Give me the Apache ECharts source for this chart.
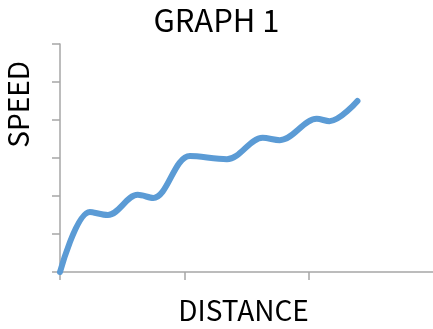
<!DOCTYPE html>
<html>
<head>
<meta charset="utf-8">
<script src="https://cdn.jsdelivr.net/npm/echarts@6/dist/echarts.min.js"></script>
<style>
  html, body { margin: 0; padding: 0; background: #fff; }
  #chart { width: 433px; height: 329px; }
</style>
</head>
<body>
<div id="chart"></div>
<script>
// values (x: 4 units per major tick, y: 1 unit per tick)
var distance = [0, 0.96, 1.54, 2.5, 3.0, 4.18, 5.37, 6.52, 7.07, 8.26, 8.67, 9.57];
var speed = [0, 1.58, 1.5, 2.03, 1.95, 3.05, 2.97, 3.53, 3.47, 4.03, 3.97, 4.5];
var xTicks = [0, 4, 8];

var titleText = 'GRAPH 1';
var xName = 'DISTANCE';
var yName = 'SPEED';

var font = '"Noto Sans CJK KR", "Noto Sans", sans-serif';
var axisGray = '#a6a6a6';

var chart = echarts.init(document.getElementById('chart'));

var points = distance.map(function (d, i) { return [d, speed[i]]; });

var option = {
    animation: false,
    title: {
        text: titleText,
        left: 'center',
        top: 0,
        textStyle: { fontFamily: font, fontSize: 31, fontWeight: 'normal', color: '#000' }
    },
    grid: { left: 60, right: 0, top: 44, bottom: 57 },
    xAxis: {
        type: 'value',
        min: 0,
        max: 12,
        interval: 4,
        name: xName,
        nameLocation: 'middle',
        nameGap: 24,
        nameTextStyle: { fontFamily: font, fontSize: 28, color: '#000', padding: [0, 6, 0, 0] },
        axisLine: { show: true, lineStyle: { color: axisGray, width: 1.5 } },
        // the tick at the right end falls off the canvas in the original
        axisTick: { show: true, length: 8, inside: false, customValues: xTicks, lineStyle: { color: axisGray, width: 1.5 } },
        axisLabel: { show: false },
        splitLine: { show: false }
    },
    yAxis: {
        type: 'value',
        min: 0,
        max: 6,
        interval: 1,
        axisLine: { show: true, lineStyle: { color: axisGray, width: 1.5 } },
        axisTick: { show: true, length: 8, inside: false, lineStyle: { color: axisGray, width: 1.5 } },
        axisLabel: { show: false },
        splitLine: { show: false }
    },
    graphic: [{
        type: 'text',
        left: 4,
        top: 61,
        rotation: Math.PI / 2,
        style: { text: yName, font: '28px ' + font, fill: '#000' }
    }],
    series: [{
        type: 'line',
        data: points,
        smooth: 0.35,
        symbol: 'none',
        lineStyle: { color: '#5b9bd5', width: 6, cap: 'round', join: 'round' }
    }]
};

chart.setOption(option);
</script>
</body>
</html>
